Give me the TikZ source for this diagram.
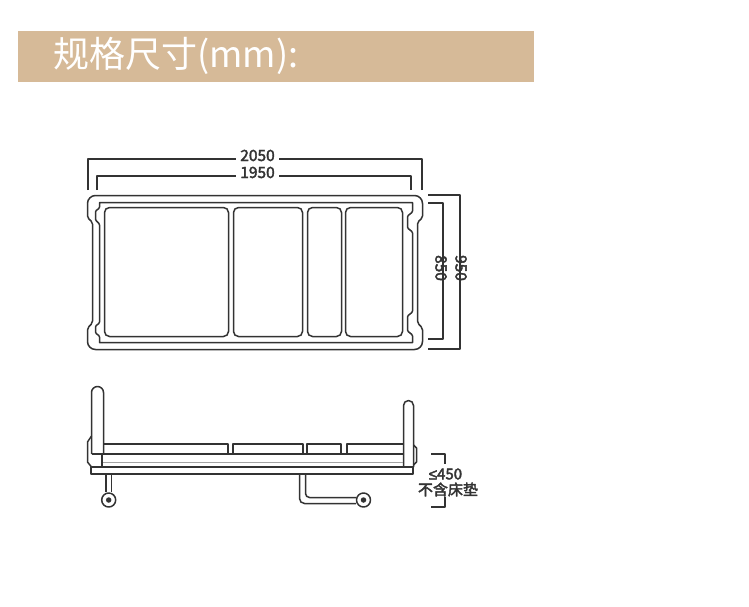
\documentclass[tikz,border=0pt]{standalone}
\usepackage{fontspec}
\setmainfont{Noto Sans CJK SC}
\newfontfamily\labelfont[FakeBold=2.5]{Noto Sans CJK SC}
\newfontfamily\relfont[FakeBold=2.5]{Liberation Sans}
\usetikzlibrary{positioning}

\definecolor{bandcolor}{HTML}{D6BA98}
\definecolor{linecolor}{HTML}{333333}

\begin{document}
\begin{tikzpicture}[x=1pt,y=-1pt,line width=1.5pt,
  draw=linecolor,line join=round,
  band/.style={fill=bandcolor,minimum width=516pt,minimum height=51pt,inner sep=0pt},
  title/.style={text=white,font=\fontsize{36}{36}\selectfont,inner sep=0pt},
  dim label/.style={fill=white,inner xsep=3.5pt,inner ysep=0pt,text height=11pt,text depth=7pt,
    text=linecolor,font=\fontsize{15.5}{15.5}\selectfont\labelfont},
  side label/.style={dim label,rotate=-90,text height=15pt,text depth=0pt,inner xsep=5pt},
  note label/.style={text=linecolor,inner sep=0pt,font=\fontsize{15}{15}\selectfont\labelfont},
  panel/.style={rounded corners=5pt},
  wheel/.style={circle,draw,fill=white,minimum size=14pt,inner sep=0pt},
  hub/.style={circle,fill=linecolor,minimum size=5.5pt,inner sep=0pt}]

  \useasboundingbox (0,0) rectangle (749,606);

  % heading
  \node[band] (band) at (276,56.5) {};
  \node[title,anchor=west] (title) at (52.5,56) {规格尺寸(mm):};

  % plan view
  \draw (250,195.5) [rounded corners=8pt] -- (422.5,195.5) [rounded corners=2pt] -- (422.5,218) -- (417.5,222)
    -- (417.5,323) -- (422.5,328) [rounded corners=8pt] -- (422.5,349.5) -- (87.5,349.5) [rounded corners=2pt]
    -- (87.5,328) -- (92.5,323) -- (92.5,222) -- (87.5,218) [rounded corners=8pt] -- (87.5,195.5) -- cycle;
  \draw (99.5,202.5) [rounded corners=1pt] -- (99.5,208) -- (95.5,211) -- (95.5,220) -- (99.5,224) -- (99.5,323)
    -- (95.5,326) -- (95.5,333) -- (99.5,336) [sharp corners] -- (99.5,342.5) -- (412.5,342.5)
    [rounded corners=1pt] -- (412.5,335) -- (407.5,331) -- (407.5,316) -- (412.5,312) -- (412.5,232)
    -- (407.5,228) -- (407.5,216) -- (412.5,212) [sharp corners] -- (412.5,202.5) -- cycle;
  \draw[panel] (104.5,207.5) rectangle (228.5,336.5);
  \draw[panel] (233.5,207.5) rectangle (302.5,336.5);
  \draw[panel] (307.5,207.5) rectangle (341.5,336.5);
  \draw[panel] (345.5,207.5) rectangle (402.5,336.5);

  % dimensions
  \node[dim label] (w2050) at (257.5,159) {2050};
  \node[dim label] (w1950) at (257.5,176) {1950};
  \node[side label] (h850) at (443,268) {850};
  \node[side label,text height=9pt] (h950) at (460,268) {950};
  \coordinate (w2050a) at (88,190);
  \coordinate (w2050b) at (422,190);
  \coordinate (w1950a) at (97,190);
  \coordinate (w1950b) at (411,190);
  \coordinate (h850a) at (428,203);
  \coordinate (h850b) at (428,339);
  \coordinate (h950a) at (428,195);
  \coordinate (h950b) at (428,349);
  \draw (w2050a) |- (w2050.west);
  \draw (w2050b) |- (w2050.east);
  \draw (w1950a) |- (w1950.west);
  \draw (w1950b) |- (w1950.east);
  \draw (h850a) -| (h850.east);
  \draw (h850b) -| (h850.west);
  \draw (h950a) -| (h950.east);
  \draw (h950b) -| (h950.west);

  % side view
  \draw[rounded corners=6pt] (91.5,454) -- (91.5,386.5) -- (103.5,386.5) [sharp corners] -- (103.5,454);
  \draw[rounded corners=5pt] (403.5,467) -- (403.5,400.5) -- (413.5,400.5) [sharp corners] -- (413.5,467);
  \draw (91.5,436) -- (87.5,442) -- (87.5,462) -- (91.5,467);
  \draw (413.5,445) -- (416.5,448) -- (416.5,462) -- (413.5,465);
  \draw (91.5,454) -- (403.5,454);
  \draw (102,454) -- (102,467);
  \draw[line width=.7pt,draw=linecolor!45] (103,462.5) -- (403,462.5);
  \draw (91,467) rectangle (413,474);
  \draw (103.5,444) -- (228,444) -- (228,454);
  \draw (233,454) -- (233,444) -- (303,444) -- (303,454);
  \draw (307,454) -- (307,444) -- (341,444) -- (341,454);
  \draw (347,454) -- (347,444) -- (403.5,444);

  % castors
  \node[wheel] (wheel1) at (108.7,500) {};
  \node[hub] (hub1) at (wheel1.center) {};
  \node[wheel] (wheel2) at (363.5,500) {};
  \node[hub] (hub2) at (wheel2.center) {};
  \coordinate (leg1a) at (106,474);
  \coordinate (leg1b) at (111.5,474);
  \coordinate (leg2a) at (299.5,474);
  \coordinate (leg2b) at (305.5,474);
  \draw (leg1a) -- (leg1a |- wheel1.north);
  \draw (leg1b) -- (leg1b |- wheel1.north);
  \draw[rounded corners=5pt] (leg2a) -- (299.5,503.5) -- (wheel2.west |- 0,503.5);
  \draw[rounded corners=4pt] (leg2b) -- (305.5,497.5) -- (wheel2.west |- 0,497.5);

  % height note
  \node[note label] (height) at (445.5,474) {{\relfont ≤}450};
  \node[note label,below=1.5pt of height,xshift=2.5pt] (mattress) {不含床垫};
  \coordinate (brackettop) at (431,454);
  \coordinate (bracketbot) at (431,507);
  \draw (brackettop) -- (445,454) -- (445,464);
  \draw (bracketbot) -- (445,507) -- (445,497);
\end{tikzpicture}
\end{document}
